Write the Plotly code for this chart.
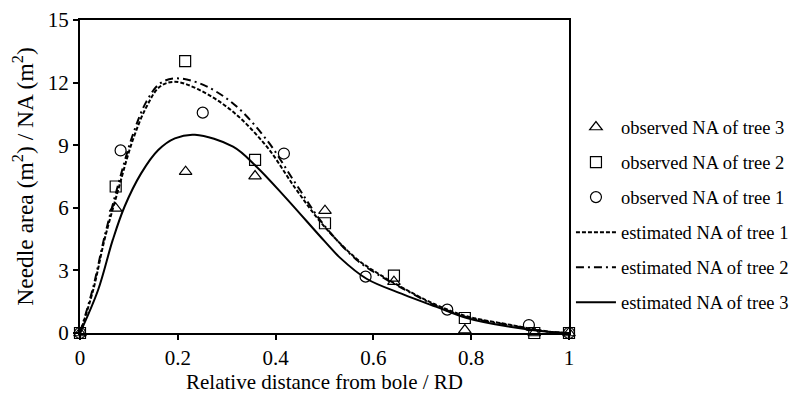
import plotly.graph_objects as go

# Observed data points
obs_x1 = [0, 0.083, 0.251, 0.417, 0.584, 0.751, 0.918, 1.0]
obs_y1 = [0, 8.75, 10.56, 8.6, 2.7, 1.12, 0.38, 0]
obs_x2 = [0, 0.073, 0.215, 0.358, 0.501, 0.642, 0.787, 0.929, 1.0]
obs_y2 = [0, 7.02, 13.03, 8.3, 5.26, 2.75, 0.72, 0.0, 0]
obs_x3 = [0, 0.073, 0.216, 0.358, 0.501, 0.642, 0.787, 0.929, 1.0]
obs_y3 = [0, 5.97, 7.73, 7.52, 5.86, 2.46, 0.14, 0.0, 0]

# Estimated curves
est_x = [0, 0.027, 0.05, 0.078, 0.108, 0.136, 0.163, 0.194, 0.245, 0.313, 0.382, 0.44,
         0.498, 0.566, 0.613, 0.661, 0.729, 0.791, 0.873, 0.961, 1.0]
est_y1 = [0, 2.06, 4.46, 6.85, 9.25, 10.84, 11.8, 12.04, 11.64, 10.6, 8.93, 6.95,
          5.15, 3.55, 2.8, 2.15, 1.34, 0.8, 0.42, 0.06, 0]
est_y2 = [0, 2.2, 4.6, 7.1, 9.5, 11.1, 11.95, 12.2, 11.96, 11.0, 9.25, 7.2,
          5.2, 3.5, 2.75, 2.12, 1.3, 0.76, 0.4, 0.05, 0]
est_x3 = [0, 0.037, 0.067, 0.091, 0.125, 0.16, 0.194, 0.235, 0.313, 0.361, 0.42, 0.5, 0.532,
          0.586, 0.661, 0.729, 0.791, 0.873, 0.961, 1.0]
est_y3 = [0, 2.06, 4.46, 6.05, 7.65, 8.77, 9.33, 9.5, 8.93, 7.97, 6.5, 4.4, 3.6,
          2.6, 1.85, 1.25, 0.72, 0.32, 0.05, 0]

FONT = "Liberation Serif, Times New Roman, Times, serif"
fig = go.Figure()

mk = dict(color="black", size=11, line=dict(color="black", width=1.2))
fig.add_trace(go.Scatter(x=obs_x3, y=obs_y3, mode="markers", name="observed NA of tree 3",
                         legendgroup="a", marker=dict(symbol="triangle-up-open", **mk)))
fig.add_trace(go.Scatter(x=obs_x2, y=obs_y2, mode="markers", name="observed NA of tree 2",
                         legendgroup="b", marker=dict(symbol="square-open", **mk)))
fig.add_trace(go.Scatter(x=obs_x1, y=obs_y1, mode="markers", name="observed NA of tree 1",
                         legendgroup="c", marker=dict(symbol="circle-open", **mk)))
fig.add_trace(go.Scatter(x=est_x, y=est_y1, mode="lines", name="estimated NA of tree 1",
                         legendgroup="d", line=dict(color="black", width=2, dash="4px,2px", shape="spline")))
fig.add_trace(go.Scatter(x=est_x, y=est_y2, mode="lines", name="estimated NA of tree 2",
                         legendgroup="e", line=dict(color="black", width=2, dash="8px,4px,2px,4px", shape="spline")))
fig.add_trace(go.Scatter(x=est_x3, y=est_y3, mode="lines", name="estimated NA of tree 3",
                         legendgroup="f", line=dict(color="black", width=2, shape="spline")))

fig.update_layout(
    width=798, height=386,
    margin=dict(l=72, r=237, t=12, b=61),
    paper_bgcolor="white", plot_bgcolor="white",
    font=dict(family=FONT, color="black", size=21),
    showlegend=True,
    legend=dict(x=1.004, xanchor="left", y=0.377, yanchor="middle",
                font=dict(family=FONT, size=18.5, color="black"),
                tracegroupgap=8, itemwidth=40, bgcolor="rgba(0,0,0,0)"),
    xaxis=dict(range=[0, 1], dtick=0.2, tick0=0, showgrid=False, zeroline=False,
               showline=True, linecolor="black", linewidth=2, mirror=True, automargin=False,
               ticks="outside", ticklen=5, tickwidth=1.5, tickcolor="black",
               tickfont=dict(family=FONT, size=21),
               title=dict(text="Relative distance from bole / RD", font=dict(family=FONT, size=21))),
    yaxis=dict(range=[0, 15], dtick=3, tick0=0, showgrid=False, zeroline=False,
               showline=True, linecolor="black", linewidth=2, mirror=True, automargin=False,
               ticks="outside", ticklen=5, tickwidth=1.5, tickcolor="black",
               tickfont=dict(family=FONT, size=21),
               title=dict(text="Needle area (m<sup>2</sup>) / NA (m<sup>2</sup>)", font=dict(family=FONT, size=23.5))),
)
fig.update_traces(cliponaxis=False)

fig.write_html("out.html")
